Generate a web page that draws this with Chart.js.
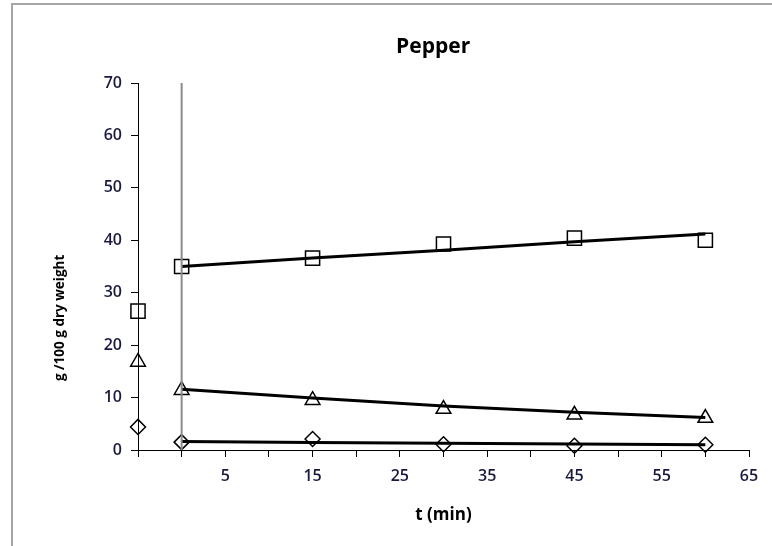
<!DOCTYPE html>
<html>
<head>
<meta charset="utf-8">
<script src="https://cdn.jsdelivr.net/npm/chart.js@4.4.1/dist/chart.umd.min.js"></script>
<style>
  html,body{margin:0;padding:0;background:#fff;}
  #wrap{width:772px;height:546px;position:relative;}
</style>
</head>
<body>
<div id="wrap"><canvas id="c" width="772" height="546"></canvas></div>
<script>
// ---- data ----
const title = "Pepper";
const xTitle = "t (min)";
const yTitle = "g /100 g dry weight";
const times = [-5, 0, 15, 30, 45, 60];
const squares = [26.5, 35.0, 36.6, 39.3, 40.4, 40.0];
const triangles = [16.8, 11.4, 9.5, 7.8, 6.7, 6.1];
const diamonds = [4.4, 1.5, 2.1, 1.1, 0.8, 1.0];
const fitTimes = [0, 15, 30, 45, 60];
const squaresFit = [35.0, 36.6, 38.1, 39.7, 41.2];
const trianglesFit = [11.6, 9.9, 8.4, 7.2, 6.2];
const diamondsFit = [1.6, 1.45, 1.3, 1.15, 1.0];
const markerLine = [0, 70]; // vertical marker at t = 0
const xLabels = [5, 15, 25, 35, 45, 55, 65];

const pts = (xs, ys) => xs.map((x, i) => ({x, y: ys[i]}));

const fitDs = (d) => ({type:'scatter', data:d, showLine:true, borderColor:'#000', borderWidth:3,
  pointRadius:0, fill:false, tension:0});
const markDs = (d, style, r) => ({type:'scatter', data:d, showLine:false, pointStyle:style, clip:false,
  pointRadius:r, pointBackgroundColor:'rgba(255,255,255,0)', pointBorderColor:'#000', pointBorderWidth:1.5});

const fontFam = "'Open Sans', Lato, sans-serif";

const decorPlugin = {
  id:'decor',
  beforeDraw(chart){
    const ctx = chart.ctx;
    ctx.save();
    ctx.strokeStyle = '#a6a6a6';
    ctx.lineWidth = 2;
    ctx.beginPath();
    ctx.moveTo(12, 546); ctx.lineTo(12, 4); ctx.lineTo(772, 4);
    ctx.stroke();
    ctx.restore();
  },
  afterDraw(chart){
    const ctx = chart.ctx;
    const a = chart.chartArea;
    ctx.save();
    ctx.fillStyle = '#000';
    ctx.textAlign = 'center';
    ctx.textBaseline = 'middle';
    ctx.font = "bold 21px " + fontFam;
    ctx.fillText(title, a.left + (a.right - a.left) * 0.483, 47);
    ctx.translate(60, a.top + (a.bottom - a.top) * 0.64);
    ctx.rotate(-Math.PI / 2);
    ctx.font = "bold 13.5px " + fontFam;
    ctx.fillText(yTitle, 0, 0);
    ctx.restore();
  }
};

new Chart(document.getElementById('c'), {
  type:'scatter',
  data:{datasets:[
    {type:'scatter', data:pts([0,0], markerLine), showLine:true, borderColor:'#8c8c8c', borderWidth:2, pointRadius:0},
    fitDs(pts(fitTimes, squaresFit)),
    fitDs(pts(fitTimes, trianglesFit)),
    fitDs(pts(fitTimes, diamondsFit)),
    markDs(pts(times, squares), 'rect', 10),
    markDs(pts(times, triangles), 'triangle', 8.5),
    markDs(pts(times, diamonds), 'rectRot', 7.5)
  ]},
  options:{
    responsive:false, animation:false,
    layout:{padding:{left:48, right:23, top:83, bottom:17}},
    plugins:{
      legend:{display:false}, tooltip:{enabled:false}, title:{display:false}
    },
    scales:{
      x:{type:'linear', min:-5, max:65,
        afterFit(s){ s.height = 79; },
        border:{display:true, color:'#000', width:1},
        grid:{display:true, drawOnChartArea:false, drawTicks:true, tickLength:7, color:'#000'},
        ticks:{stepSize:5, autoSkip:false, maxRotation:0, color:'#1a1a40', padding:10,
          font:{family:fontFam, size:16, weight:'600'},
          callback:(v)=> xLabels.includes(v) ? String(v) : ''},
        title:{display:true, text:xTitle, color:'#000', font:{family:fontFam, size:17, weight:'bold'}, padding:{top:4,bottom:4}}
      },
      y:{type:'linear', min:0, max:70,
        afterFit(s){ s.width = 90; },
        border:{display:true, color:'#000', width:1},
        grid:{display:true, drawOnChartArea:false, drawTicks:true, tickLength:7, color:'#000'},
        ticks:{stepSize:10, color:'#1a1a40', padding:9, font:{family:fontFam, size:16, weight:'600'}},
        title:{display:false}
      }
    }
  },
  plugins:[decorPlugin]
});
</script>
</body>
</html>
